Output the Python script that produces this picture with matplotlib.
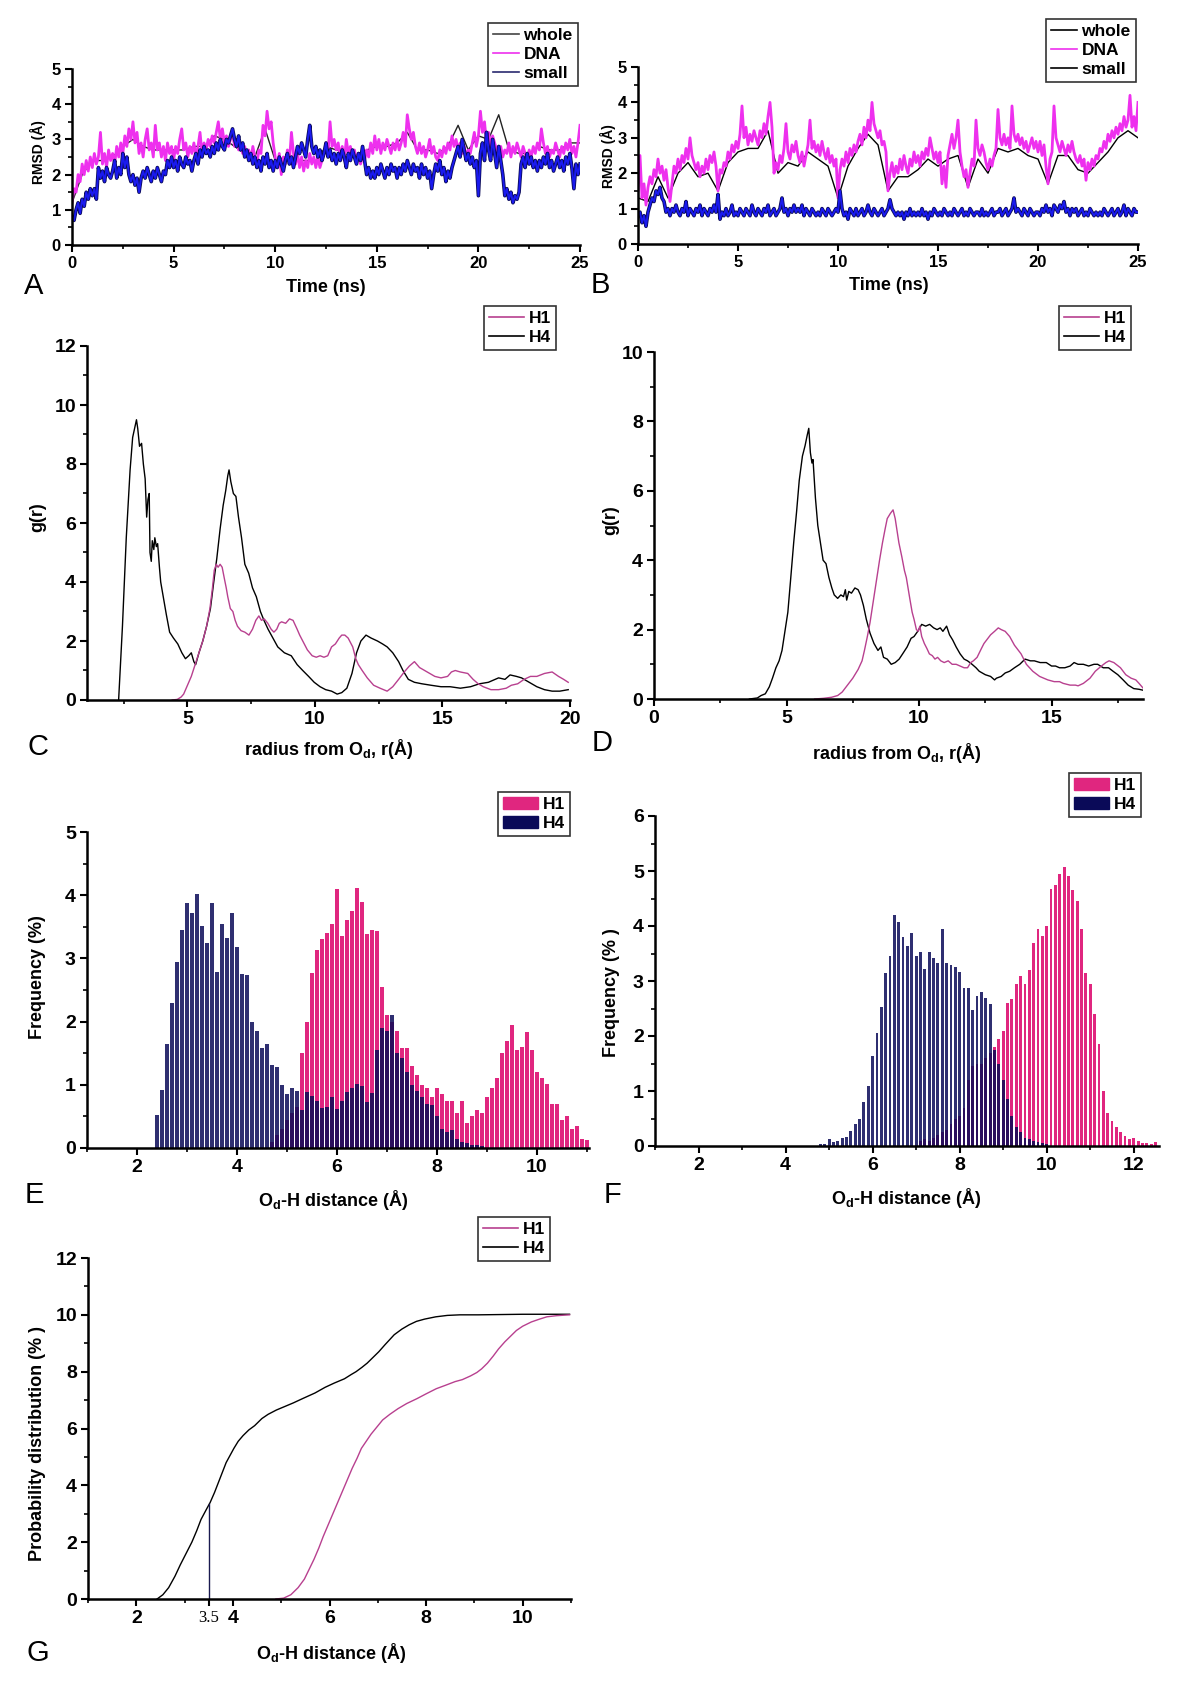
import numpy as np
import matplotlib.pyplot as plt
from matplotlib.lines import Line2D
from matplotlib.patches import Patch
from matplotlib.ticker import MultipleLocator, FixedLocator

# ---------------- data ----------------
# A: RMSD, 0.1 ns sampling (one row per ns)
a_dna = [
    1.2, 1.6, 1.5, 2.0, 1.8, 2.3, 2.0, 2.4, 2.1, 2.5,
    2.2, 2.6, 2.3, 2.5, 3.2, 2.3, 2.6, 2.2, 2.7, 2.4,
    2.6, 2.3, 2.8, 2.5, 2.9, 2.6, 3.1, 2.8, 3.3, 3.0,
    3.5, 2.9, 3.2, 2.6, 2.9, 2.5, 3.0, 3.3, 2.7, 2.9,
    2.5, 3.4, 2.7, 2.9, 2.5, 2.8, 2.4, 2.9, 2.6, 2.8,
    2.4, 2.8, 2.6, 3.0, 3.3, 2.7, 2.9, 2.5, 2.8, 2.6,
    2.9, 2.5, 2.8, 3.2, 2.6, 2.9, 2.7, 3.0, 2.8, 3.1,
    2.9, 3.2, 3.5, 3.0, 3.3, 2.9, 3.1, 2.8, 3.0, 3.2,
    2.8, 3.0, 2.7, 2.9, 2.6, 2.8, 2.5, 2.7, 2.4, 2.8,
    2.5, 2.3, 2.7, 2.6, 3.4, 3.1, 3.8, 3.3, 3.5, 2.9,
    2.5, 2.2, 2.6, 2.0, 2.5, 2.3, 2.7, 2.4, 3.2, 2.6,
    2.3, 2.6, 2.2, 2.5, 2.1, 2.4, 2.2, 2.6, 2.3, 2.5,
    2.2, 2.5, 2.2, 2.4, 2.6, 2.9, 2.6, 3.5, 2.8, 3.0,
    2.7, 2.9, 2.5, 2.8, 2.4, 3.0, 2.6, 2.8, 2.5, 2.7,
    2.4, 2.6, 2.3, 2.5, 2.4, 2.7, 2.5, 2.9, 2.6, 3.1,
    2.7, 3.0, 2.6, 2.9, 2.7, 3.0, 2.8, 2.6, 2.9, 2.7,
    3.0, 2.7, 2.9, 3.2, 2.8, 3.7, 3.3, 3.0, 3.2, 2.8,
    2.6, 2.9, 2.6, 2.8, 2.5, 2.7, 3.0, 2.6, 2.8, 2.5,
    2.4, 2.7, 2.5, 2.8, 2.6, 2.9, 2.7, 3.1, 2.8, 3.0,
    2.7, 2.9, 2.6, 2.8, 2.5, 2.7, 2.6, 2.9, 3.2, 2.8,
    3.1, 3.8, 3.2, 3.5, 2.9, 3.2, 2.8, 3.1, 2.9, 2.7,
    2.6, 2.8, 2.5, 2.7, 2.6, 2.9, 2.5, 2.8, 2.6, 2.9,
    2.7, 2.5, 2.8, 2.6, 2.4, 2.7, 2.5, 2.8, 2.6, 2.9,
    2.7, 3.3, 2.9, 2.6, 2.8, 2.5, 2.7, 2.6, 2.9, 2.7,
    2.5, 2.8, 2.6, 2.9, 2.7, 3.0, 2.6, 2.8, 2.5, 2.9,
    3.4]
a_small = [
    0.8, 0.7, 1.0, 1.2, 0.9, 1.3, 1.1, 1.5, 1.3, 1.6,
    1.4, 1.6, 1.3, 2.2, 1.9, 2.1, 1.8, 2.2, 2.0, 1.9,
    2.1, 2.4, 1.9, 2.2, 2.0, 2.6, 2.2, 2.5, 2.0, 1.8,
    2.0, 1.7, 1.9, 1.5, 1.9, 2.1, 1.9, 2.2, 2.0, 1.8,
    2.1, 1.9, 2.2, 2.0, 1.8, 2.1, 2.0, 2.4, 2.2, 2.5,
    2.2, 2.4, 2.1, 2.5, 2.3, 2.2, 2.5, 2.3, 2.4, 2.1,
    2.4, 2.6, 2.3, 2.7, 2.5, 2.8, 2.6, 2.7, 2.5, 2.8,
    2.6, 2.9, 2.7, 3.0, 2.8, 2.7, 3.0, 2.9, 3.1, 3.3,
    3.0, 2.8, 3.1, 2.7, 2.9, 2.5, 2.7, 2.4, 2.6, 2.3,
    2.5, 2.2, 2.4, 2.1, 2.5, 2.3, 2.6, 2.2, 2.4, 2.1,
    2.4, 2.2, 2.5, 2.3, 2.1, 2.4, 2.6, 2.3, 2.5, 2.2,
    2.5, 2.8, 2.6, 2.9, 2.7, 2.5, 3.0, 3.4, 2.8, 2.6,
    2.8, 2.5, 2.7, 2.4, 2.6, 2.9, 2.5, 2.7, 2.4, 2.6,
    2.3, 2.6, 2.4, 2.7, 2.5, 2.2, 2.6, 2.4, 2.7, 2.5,
    2.3, 2.6, 2.4, 2.8, 2.4, 2.0, 2.2, 1.9, 2.1, 1.9,
    2.2, 2.0, 2.3, 2.1, 1.9, 2.2, 2.0, 2.3, 2.1, 2.2,
    1.9, 2.2, 2.0, 2.3, 2.1, 2.4, 2.2, 2.0, 2.3, 2.1,
    2.2, 1.9, 2.3, 2.0, 2.2, 1.9, 2.1, 1.6, 2.0, 2.3,
    2.1, 2.4, 2.0, 2.2, 1.8, 2.1, 1.9, 2.2, 2.4, 2.6,
    2.8, 2.5, 3.0, 2.7, 2.4, 2.6, 2.3, 2.5, 2.2, 2.4,
    1.4, 2.6, 2.9, 2.4, 3.2, 2.7, 2.4, 3.0, 2.6, 2.2,
    2.8, 2.4, 2.0, 1.4, 1.6, 1.3, 1.5, 1.2, 1.4, 1.3,
    1.5, 2.3, 2.5, 2.2, 2.6, 2.3, 2.5, 2.2, 2.4, 2.1,
    2.4, 2.2, 2.5, 2.3, 2.6, 2.2, 2.4, 2.1, 2.3, 2.5,
    2.2, 2.4, 2.1, 2.5, 2.3, 2.6, 2.2, 1.6, 2.3, 2.0,
    2.3]
# whole system, 0.5 ns sampling
a_whole = [1.2, 2.0, 2.4, 2.4, 2.5, 2.8, 3.0, 2.8, 2.7, 2.7, 2.7, 2.7, 2.8,
           2.8, 3.1, 3.0, 2.8, 2.6, 2.5, 3.3, 2.4, 2.5, 2.4, 2.4, 2.4, 2.8,
           2.7, 2.7, 2.5, 2.7, 2.8, 2.8, 2.9, 3.2, 2.7, 2.7, 2.6, 2.8, 3.4,
           2.7, 3.1, 3.0, 3.7, 2.7, 2.6, 2.6, 2.8, 2.7, 2.7, 2.9, 2.9]

# B: RMSD
b_dna = [
    1.5, 2.5, 1.3, 1.7, 1.1, 1.6, 1.9, 1.7, 2.1, 1.9,
    2.4, 2.0, 2.2, 1.8, 2.1, 1.6, 1.2, 1.7, 2.2, 2.0,
    2.4, 2.1, 2.5, 2.3, 2.7, 2.4, 3.0, 2.5, 2.3, 2.1,
    2.3, 1.9, 2.2, 2.0, 2.4, 2.1, 2.5, 2.3, 2.6, 2.2,
    1.5, 2.1, 2.0, 2.3, 2.2, 2.6, 2.4, 2.8, 2.6, 2.9,
    2.7, 3.1, 3.9, 3.0, 3.3, 2.8, 3.1, 2.9, 3.2, 3.0,
    2.8, 3.2, 3.0, 3.4, 3.1, 3.6, 4.0, 3.3, 2.0, 2.3,
    2.1, 2.5, 2.3, 2.7, 3.4, 2.6, 2.4, 2.8, 2.6, 2.9,
    2.5, 2.3, 2.6, 2.2, 2.5, 2.8, 3.5, 2.7, 2.9, 2.6,
    2.8, 2.5, 2.9, 2.6, 2.4, 2.7, 2.3, 2.5, 2.2, 2.4,
    1.3, 2.1, 2.4, 2.2, 2.6, 2.3, 2.7, 2.5, 2.8, 2.6,
    2.9, 3.1, 2.8, 3.3, 3.0, 3.5, 3.2, 4.0, 3.4, 3.2,
    3.0, 3.2, 2.8, 2.9, 2.6, 1.5, 2.0, 2.3, 1.9, 2.2,
    2.0, 2.4, 2.1, 2.5, 2.2, 2.0, 2.4, 2.2, 2.6, 2.3,
    2.5, 2.2, 2.6, 2.4, 2.7, 2.5, 3.0, 2.7, 2.4, 2.6,
    2.3, 2.6, 1.7, 2.2, 1.6, 2.5, 2.8, 3.1, 2.7, 3.0,
    3.5, 2.6, 2.2, 1.9, 2.1, 1.6, 2.0, 2.4, 2.2, 3.5,
    2.7, 2.5, 2.8, 2.6, 2.3, 2.1, 2.4, 2.2, 2.5, 2.7,
    3.8, 3.0, 2.8, 3.1, 2.8, 3.0, 2.7, 3.9, 3.1, 2.9,
    3.1, 2.8, 3.0, 2.7, 2.9, 2.6, 2.8, 3.0, 2.7, 2.9,
    2.6, 2.9, 2.5, 2.8, 2.2, 1.7, 2.4, 2.6, 3.9, 3.0,
    2.8, 2.6, 2.9, 2.7, 2.5, 2.8, 2.6, 2.9, 2.6, 2.4,
    2.3, 2.5, 2.2, 2.4, 1.8, 2.3, 2.1, 2.4, 2.2, 2.5,
    2.4, 2.7, 2.6, 2.9, 2.7, 3.1, 2.9, 3.2, 3.0, 3.3,
    3.1, 3.4, 3.2, 3.6, 3.3, 3.5, 4.2, 3.3, 3.6, 3.2,
    4.0]
b_small = [
    0.8, 0.9, 0.6, 0.8, 0.5, 0.9, 1.1, 1.3, 1.2, 1.5,
    1.4, 1.6, 1.3, 1.2, 0.9, 1.0, 0.8, 1.0, 0.9, 1.1,
    0.9, 0.8, 1.0, 0.9, 1.2, 0.8, 1.0, 0.9, 0.8, 1.0,
    0.9, 1.1, 0.8, 1.0, 0.9, 0.8, 1.0, 0.9, 1.1, 0.9,
    1.4, 0.7, 0.9, 0.8, 1.0, 0.8, 0.9, 1.1, 0.8, 0.9,
    0.8, 1.0, 0.9, 0.8, 1.0, 0.9, 0.8, 1.1, 0.9, 0.8,
    1.0, 0.9, 0.8, 1.0, 0.9, 1.1, 0.8, 0.9, 1.0, 0.8,
    0.9, 1.0, 1.3, 0.9, 1.0, 0.8, 1.0, 0.9, 1.1, 0.9,
    1.0, 0.9, 1.1, 0.8, 1.0, 0.9, 0.8, 1.0, 0.9, 0.8,
    0.9, 0.8, 1.0, 0.9, 0.8, 1.0, 0.9, 0.8, 0.9, 1.0,
    0.9, 1.5, 1.0, 0.8, 0.9, 0.7, 1.0, 0.9, 0.8, 1.0,
    0.8, 0.9, 1.0, 0.8, 0.9, 1.1, 0.9, 0.8, 1.0, 0.9,
    0.8, 0.9, 1.0, 0.8, 0.9, 1.0, 1.25, 1.0, 0.9, 0.8,
    0.9, 0.8, 0.9, 0.7, 0.9, 0.8, 1.0, 0.8, 0.9, 0.8,
    0.9, 0.8, 1.0, 0.8, 0.9, 0.7, 0.9, 0.8, 1.0, 0.9,
    0.8, 0.9, 0.8, 1.0, 0.9, 0.8, 0.9, 0.8, 1.0, 0.9,
    0.8, 0.9, 1.0, 0.8, 0.9, 0.8, 1.0, 0.9, 0.8, 0.9,
    0.9, 0.8, 1.0, 0.8, 0.9, 0.8, 0.9, 1.0, 0.8, 0.9,
    0.9, 1.0, 0.8, 0.9, 1.0, 0.8, 0.9, 1.0, 1.3, 0.9,
    1.0, 0.9, 0.8, 1.0, 0.9, 0.8, 1.0, 0.9, 0.8, 0.9,
    0.9, 0.8, 1.0, 0.9, 1.1, 0.9, 1.0, 0.8, 1.1, 1.0,
    0.9, 1.1, 1.0, 1.2, 0.9, 1.0, 0.8, 1.0, 0.9, 1.0,
    0.8, 0.9, 1.0, 0.8, 0.9, 0.8, 1.0, 0.9, 0.8, 0.9,
    0.8, 0.9, 0.8, 1.0, 0.9, 0.8, 0.9, 1.0, 0.8, 0.9,
    1.0, 0.8, 0.9, 1.1, 0.8, 1.0, 0.9, 0.8, 1.0, 0.9,
    0.9]
b_whole = [1.3, 1.2, 1.9, 1.3, 2.0, 2.3, 1.9, 2.0, 1.5, 2.3, 2.6, 2.7, 2.7,
           3.2, 2.0, 2.3, 2.2, 2.6, 2.4, 2.2, 1.3, 2.2, 2.7, 3.1, 2.8, 1.5,
           1.9, 1.9, 2.1, 2.4, 2.2, 2.4, 2.5, 1.6, 2.4, 2.0, 2.7, 2.6, 2.7,
           2.5, 2.4, 1.7, 2.5, 2.5, 2.1, 2.0, 2.3, 2.6, 3.0, 3.2, 3.0]

# C: g(r) pairs (r, g)
c_h4 = [(2.3, 0.0), (2.45, 2.5), (2.6, 5.5), (2.75, 7.8), (2.85, 8.9), (2.95, 9.3),
        (3.0, 9.5), (3.05, 9.2), (3.12, 8.6), (3.2, 8.7), (3.27, 8.0), (3.34, 7.5),
        (3.4, 6.2), (3.45, 6.8), (3.5, 7.0), (3.53, 5.0), (3.58, 4.7), (3.62, 5.4),
        (3.68, 5.1), (3.72, 5.5), (3.78, 5.2), (3.83, 5.3), (3.9, 4.5), (3.95, 4.0),
        (4.05, 3.5), (4.17, 2.9), (4.3, 2.3), (4.45, 2.1), (4.62, 1.9), (4.78, 1.6),
        (4.92, 1.4), (5.05, 1.5), (5.15, 1.6), (5.25, 1.3), (5.32, 1.2), (5.45, 1.6),
        (5.6, 2.0), (5.75, 2.5), (5.9, 3.1), (6.03, 4.0), (6.15, 4.8), (6.28, 5.8),
        (6.4, 6.6), (6.5, 7.1), (6.58, 7.6), (6.63, 7.8), (6.7, 7.4), (6.8, 7.0),
        (6.9, 6.9), (7.0, 6.2), (7.12, 5.5), (7.25, 4.6), (7.4, 4.3), (7.55, 3.8),
        (7.7, 3.5), (7.86, 3.0), (8.0, 2.7), (8.16, 2.4), (8.35, 2.1), (8.54, 1.8),
        (8.8, 1.6), (9.07, 1.5), (9.3, 1.2), (9.52, 1.0), (9.75, 0.8), (9.97, 0.6),
        (10.2, 0.45), (10.42, 0.35), (10.65, 0.3), (10.87, 0.2), (11.05, 0.25),
        (11.25, 0.4), (11.45, 0.9), (11.63, 1.6), (11.8, 2.0), (12.0, 2.2),
        (12.2, 2.1), (12.45, 2.0), (12.65, 1.9), (12.83, 1.8), (13.05, 1.6),
        (13.28, 1.3), (13.45, 1.0), (13.66, 0.7), (13.9, 0.6), (14.19, 0.55),
        (14.55, 0.5), (14.94, 0.45), (15.3, 0.45), (15.7, 0.4), (16.1, 0.45),
        (16.45, 0.55), (16.8, 0.6), (17.2, 0.75), (17.45, 0.7), (17.65, 0.85),
        (17.9, 0.8), (18.1, 0.75), (18.4, 0.6), (18.7, 0.45), (19.0, 0.35),
        (19.3, 0.3), (19.6, 0.3), (19.93, 0.35)]
c_h1 = [(4.4, 0.0), (4.6, 0.02), (4.75, 0.1), (4.85, 0.2), (5.0, 0.5), (5.15, 0.8),
        (5.3, 1.2), (5.45, 1.6), (5.6, 2.0), (5.75, 2.5), (5.88, 3.1), (5.98, 3.8),
        (6.05, 4.4), (6.13, 4.6), (6.2, 4.5), (6.28, 4.6), (6.36, 4.5), (6.45, 4.1),
        (6.52, 3.8), (6.58, 3.5), (6.68, 3.1), (6.78, 3.0), (6.87, 2.7), (6.96, 2.5),
        (7.1, 2.35), (7.25, 2.3), (7.41, 2.2), (7.55, 2.4), (7.68, 2.7), (7.8, 2.85),
        (7.9, 2.7), (8.01, 2.75), (8.15, 2.6), (8.28, 2.4), (8.39, 2.3), (8.5, 2.4),
        (8.6, 2.6), (8.69, 2.65), (8.85, 2.6), (9.0, 2.75), (9.14, 2.7), (9.3, 2.4),
        (9.4, 2.2), (9.52, 2.0), (9.7, 1.7), (9.89, 1.5), (10.05, 1.45), (10.2, 1.5),
        (10.35, 1.45), (10.5, 1.5), (10.65, 1.8), (10.8, 1.9), (10.95, 2.1),
        (11.05, 2.2), (11.17, 2.2), (11.3, 2.1), (11.48, 1.8), (11.6, 1.4),
        (11.7, 1.2), (11.85, 1.0), (12.05, 0.75), (12.3, 0.5), (12.55, 0.4),
        (12.83, 0.3), (13.05, 0.45), (13.28, 0.7), (13.5, 0.95), (13.7, 1.15),
        (13.9, 1.3), (14.1, 1.1), (14.3, 1.0), (14.5, 0.9), (14.7, 0.8), (14.94, 0.75),
        (15.2, 0.8), (15.35, 0.95), (15.5, 1.0), (15.7, 0.95), (15.99, 0.9),
        (16.2, 0.7), (16.4, 0.55), (16.6, 0.45), (16.9, 0.35), (17.2, 0.35),
        (17.5, 0.4), (17.7, 0.5), (17.95, 0.55), (18.2, 0.7), (18.45, 0.8),
        (18.7, 0.8), (19.0, 0.9), (19.3, 0.95), (19.55, 0.8), (19.75, 0.7), (19.93, 0.6)]

# D: g(r) pairs
d_h4 = [(3.6, 0.0), (3.9, 0.03), (4.04, 0.1), (4.2, 0.15), (4.35, 0.35), (4.47, 0.6),
        (4.6, 0.9), (4.72, 1.1), (4.83, 1.4), (4.95, 2.0), (5.05, 2.5), (5.15, 3.4),
        (5.27, 4.5), (5.38, 5.4), (5.48, 6.3), (5.6, 7.0), (5.7, 7.3), (5.78, 7.6),
        (5.84, 7.8), (5.9, 7.1), (5.96, 6.8), (6.0, 6.9), (6.09, 5.8), (6.18, 5.0),
        (6.28, 4.5), (6.38, 4.0), (6.49, 3.9), (6.6, 3.5), (6.71, 3.2), (6.8, 3.0),
        (6.93, 2.9), (7.05, 3.0), (7.15, 2.95), (7.22, 3.15), (7.27, 2.85), (7.35, 3.1),
        (7.45, 3.05), (7.58, 3.2), (7.7, 3.15), (7.79, 3.0), (7.9, 2.7), (8.01, 2.3),
        (8.15, 1.9), (8.3, 1.6), (8.45, 1.4), (8.56, 1.5), (8.66, 1.2), (8.8, 1.15),
        (8.95, 1.0), (9.1, 1.05), (9.25, 1.15), (9.38, 1.3), (9.55, 1.5), (9.7, 1.75),
        (9.81, 1.8), (9.95, 1.95), (10.1, 2.15), (10.25, 2.1), (10.4, 2.15),
        (10.55, 2.05), (10.68, 2.0), (10.8, 2.05), (10.9, 1.95), (11.04, 2.1),
        (11.15, 1.85), (11.27, 1.7), (11.4, 1.5), (11.55, 1.3), (11.7, 1.15),
        (11.83, 1.1), (12.0, 1.0), (12.15, 0.9), (12.27, 0.8), (12.5, 0.7),
        (12.7, 0.65), (12.85, 0.55), (12.92, 0.6), (13.1, 0.65), (13.25, 0.75),
        (13.42, 0.8), (13.6, 0.9), (13.8, 1.0), (14.0, 1.15), (14.2, 1.1),
        (14.35, 1.1), (14.57, 1.05), (14.8, 1.05), (15.0, 0.95), (15.15, 0.95),
        (15.3, 0.9), (15.5, 0.9), (15.7, 0.95), (15.85, 1.05), (16.0, 1.0),
        (16.2, 1.0), (16.4, 0.95), (16.6, 1.0), (16.74, 1.0), (16.95, 0.9),
        (17.15, 0.9), (17.32, 0.8), (17.5, 0.7), (17.7, 0.55), (17.89, 0.4),
        (18.1, 0.3), (18.3, 0.28), (18.47, 0.25)]
d_h1 = [(6.06, 0.0), (6.4, 0.02), (6.7, 0.05), (6.93, 0.1), (7.1, 0.2), (7.3, 0.4),
        (7.5, 0.6), (7.7, 0.85), (7.85, 1.1), (7.94, 1.4), (8.05, 1.8), (8.15, 2.2),
        (8.23, 2.6), (8.35, 3.2), (8.45, 3.7), (8.51, 4.0), (8.62, 4.5), (8.72, 4.9),
        (8.8, 5.2), (8.92, 5.35), (9.02, 5.45), (9.1, 5.2), (9.18, 4.8), (9.24, 4.5),
        (9.35, 4.1), (9.45, 3.7), (9.52, 3.5), (9.65, 2.9), (9.74, 2.5), (9.81, 2.3),
        (9.9, 2.0), (9.97, 1.95), (10.03, 2.1), (10.1, 1.8), (10.2, 1.6), (10.3, 1.45),
        (10.39, 1.3), (10.5, 1.25), (10.6, 1.15), (10.7, 1.2), (10.82, 1.1),
        (10.95, 1.05), (11.1, 1.1), (11.25, 1.0), (11.4, 1.0), (11.55, 0.95),
        (11.7, 0.9), (11.83, 0.9), (11.95, 1.05), (12.05, 1.1), (12.19, 1.2),
        (12.35, 1.45), (12.45, 1.6), (12.55, 1.7), (12.7, 1.85), (12.85, 1.95),
        (12.99, 2.05), (13.1, 2.0), (13.25, 1.95), (13.42, 1.8), (13.6, 1.55),
        (13.75, 1.4), (13.85, 1.3), (14.05, 1.0), (14.29, 0.8), (14.55, 0.65),
        (14.86, 0.55), (15.1, 0.5), (15.3, 0.5), (15.44, 0.45), (15.7, 0.4),
        (15.9, 0.4), (16.0, 0.38), (16.2, 0.45), (16.45, 0.6), (16.65, 0.8),
        (16.88, 0.95), (17.05, 1.05), (17.17, 1.1), (17.35, 1.05), (17.6, 0.9),
        (17.8, 0.7), (18.0, 0.6), (18.18, 0.55), (18.3, 0.45), (18.47, 0.3)]

# E: histograms, 0.1 A bins
e_h4_start = 2.4
e_h4 = [0.52, 0.92, 1.65, 2.3, 2.95, 3.45, 3.87, 3.72, 4.02, 3.52, 3.25, 3.87, 2.78,
        3.55, 3.32, 3.72, 3.18, 2.75, 2.74, 2.0, 1.85, 1.58, 1.65, 1.32, 1.28, 1.0,
        0.85, 0.95, 0.9, 0.6, 0.88, 0.82, 0.75, 0.63, 0.65, 0.8, 0.62, 0.75, 0.88,
        0.95, 1.02, 0.98, 0.73, 0.87, 1.55, 1.9, 1.85, 2.1, 1.5, 1.42, 1.2, 1.0, 0.9,
        0.8, 0.7, 0.68, 0.5, 0.3, 0.25, 0.28, 0.15, 0.1, 0.08, 0.05, 0.04, 0.03]
e_h1_start = 4.7
e_h1 = [0.1, 0.2, 0.3, 0.45, 0.55, 0.65, 1.5, 2.0, 2.77, 3.13, 3.3, 3.4, 3.55, 4.1,
        3.35, 3.6, 3.75, 4.12, 3.9, 3.38, 3.45, 3.44, 2.55, 2.1, 2.0, 1.85, 1.58,
        1.58, 1.3, 1.15, 1.0, 0.95, 0.8, 0.95, 0.85, 0.75, 0.75, 0.55, 0.75, 0.4,
        0.5, 0.6, 0.55, 0.8, 0.95, 1.1, 1.5, 1.7, 1.95, 1.55, 1.6, 1.83, 1.55, 1.2,
        1.1, 1.02, 0.7, 0.7, 0.45, 0.5, 0.3, 0.35, 0.15, 0.13]

# F: histograms
f_h4_start = 4.8
f_h4 = [0.03, 0.04, 0.12, 0.07, 0.1, 0.14, 0.16, 0.27, 0.4, 0.5, 0.8, 1.1, 1.63,
        2.05, 2.53, 3.15, 3.45, 4.2, 4.08, 3.8, 3.64, 3.88, 3.46, 3.53, 3.22, 3.53,
        3.42, 3.32, 3.95, 3.32, 3.3, 3.25, 3.16, 2.87, 2.87, 2.48, 2.72, 2.8, 2.7,
        2.58, 1.75, 1.5, 1.2, 0.85, 0.55, 0.35, 0.25, 0.15, 0.12, 0.1, 0.07, 0.05, 0.03]
f_h1_start = 7.1
f_h1 = [0.1, 0.12, 0.1, 0.15, 0.2, 0.25, 0.3, 0.4, 0.5, 0.55, 0.7, 1.2, 1.45, 1.5,
        1.5, 1.6, 1.7, 1.8, 1.95, 2.1, 2.6, 2.68, 2.95, 3.1, 2.95, 3.2, 3.7, 3.95,
        3.82, 4.0, 4.68, 4.75, 4.95, 5.07, 4.9, 4.65, 4.45, 3.95, 3.15, 2.95, 2.4,
        1.85, 1.0, 0.6, 0.45, 0.35, 0.25, 0.18, 0.13, 0.15, 0.09, 0.06, 0.05, 0.04, 0.08]

# G: cumulative distribution pairs
g_h4 = [(2.43, 0.0), (2.55, 0.15), (2.67, 0.4), (2.8, 0.8), (2.91, 1.2), (3.03, 1.6),
        (3.15, 2.0), (3.25, 2.4), (3.34, 2.8), (3.45, 3.15), (3.53, 3.4), (3.62, 3.75),
        (3.7, 4.1), (3.78, 4.45), (3.86, 4.8), (3.94, 5.05), (4.02, 5.3), (4.11, 5.55),
        (4.21, 5.75), (4.33, 5.95), (4.45, 6.1), (4.6, 6.35), (4.73, 6.5), (4.9, 6.65),
        (5.04, 6.75), (5.25, 6.9), (5.44, 7.05), (5.7, 7.25), (5.91, 7.45), (6.1, 7.6),
        (6.31, 7.75), (6.45, 7.9), (6.55, 8.0), (6.67, 8.15), (6.78, 8.3), (6.9, 8.5),
        (7.02, 8.7), (7.15, 8.95), (7.34, 9.3), (7.5, 9.5), (7.65, 9.65), (7.8, 9.77),
        (7.97, 9.85), (8.2, 9.93), (8.44, 9.98), (8.7, 10.0), (9.08, 10.0),
        (10.0, 10.02), (10.97, 10.02)]
g_h1 = [(4.89, 0.0), (5.05, 0.03), (5.2, 0.15), (5.35, 0.4), (5.48, 0.7), (5.58, 1.05),
        (5.68, 1.4), (5.78, 1.8), (5.87, 2.2), (5.97, 2.6), (6.07, 3.0), (6.17, 3.4),
        (6.27, 3.8), (6.37, 4.2), (6.47, 4.6), (6.57, 4.95), (6.66, 5.3), (6.76, 5.55),
        (6.86, 5.8), (6.98, 6.05), (7.1, 6.3), (7.25, 6.5), (7.42, 6.7), (7.6, 6.88),
        (7.81, 7.05), (8.0, 7.22), (8.21, 7.4), (8.4, 7.52), (8.6, 7.65), (8.75, 7.72),
        (8.92, 7.85), (9.05, 7.97), (9.15, 8.1), (9.27, 8.3), (9.39, 8.55), (9.5, 8.8),
        (9.63, 9.05), (9.75, 9.25), (9.87, 9.45), (10.0, 9.6), (10.18, 9.75),
        (10.35, 9.85), (10.5, 9.93), (10.7, 9.97), (10.97, 10.0)]
g_cut_r, g_cut_p = 3.5, 3.35
g_xticks = [2, 3.5, 4, 6, 8, 10]

# ---------------- style ----------------
W, H = 1200, 1694
plt.rcParams['font.family'] = ['Liberation Sans', 'DejaVu Sans']
plt.rcParams['mathtext.fontset'] = 'custom'
plt.rcParams['mathtext.rm'] = 'Liberation Sans:bold'
plt.rcParams['mathtext.it'] = 'Liberation Sans:bold:italic'
plt.rcParams['mathtext.bf'] = 'Liberation Sans:bold'

MAG = '#ee30ee'
BLUE = '#1a1aee'
NAVY = '#0a0a58'
PINK = '#e0267f'
H1LINE = '#b8408f'

fig = plt.figure(figsize=(W / 100, H / 100), dpi=100)


def make_axes(l, t, r, b):
    # pixel box (left, top, right, bottom) -> axes
    return fig.add_axes([l / W, 1 - b / H, (r - l) / W, (b - t) / H])


def ftext(x, y, s, **kw):
    kw.setdefault('ha', 'center')
    kw.setdefault('va', 'center')
    fig.text(x / W, 1 - y / H, s, **kw)


def style(ax, xmaj, xmin_, ymaj, ymin_, tsize=14):
    for s in ['top', 'right']:
        ax.spines[s].set_visible(False)
    for s in ['left', 'bottom']:
        ax.spines[s].set_linewidth(1.8)
    ax.xaxis.set_major_locator(MultipleLocator(xmaj))
    ax.xaxis.set_minor_locator(MultipleLocator(xmin_))
    ax.yaxis.set_major_locator(MultipleLocator(ymaj))
    ax.yaxis.set_minor_locator(MultipleLocator(ymin_))
    ax.tick_params(which='major', direction='out', length=5, width=1.5,
                   labelsize=tsize, pad=3)
    ax.tick_params(which='minor', direction='out', length=3, width=1.2)


def fix_ticklabels(ax):
    for lbl in ax.get_xticklabels() + ax.get_yticklabels():
        lbl.set_weight('bold')


def legend(ax, handles, labels, right, top, size=12.5, hl=1.5):
    leg = ax.legend(handles, labels, loc='upper right',
                    bbox_to_anchor=(right / W, 1 - top / H),
                    bbox_transform=fig.transFigure, frameon=True, fancybox=False,
                    edgecolor='black', borderaxespad=0,
                    prop={'weight': 'bold', 'size': size}, handlelength=hl,
                    handletextpad=0.25, borderpad=0.3, labelspacing=0.2)
    leg.get_frame().set_linewidth(1.2)
    return leg


label_kw = dict(fontsize=13, fontweight='bold')
letter_kw = dict(fontsize=21)

# ---------------- A ----------------
t_fine = np.arange(len(a_dna)) * 0.1
t_half = np.arange(len(a_whole)) * 0.5
axA = make_axes(72, 69, 580, 245)
axA.plot(t_half, a_whole, color='#222222', lw=1.0)
axA.plot(t_fine, a_dna, color=MAG, lw=2.0)
axA.plot(t_fine, a_small, color=NAVY, lw=2.6)
axA.plot(t_fine, a_small, color=BLUE, lw=1.4)
axA.set_xlim(0, 25)
axA.set_ylim(0, 5)
style(axA, 5, 2.5, 1, 0.5, tsize=12)
fix_ticklabels(axA)
legend(axA, [Line2D([], [], color='#444444', lw=1.2), Line2D([], [], color=MAG, lw=1.2),
             Line2D([], [], color='#2a2a70', lw=1.2)],
       ['whole', 'DNA', 'small'], 578, 23)
ftext(38, 152, 'RMSD (Å)', rotation=90, fontsize=10, fontweight='bold')
ftext(326, 287, 'Time (ns)', **label_kw)
ftext(34, 286, 'A', **letter_kw)

# ---------------- B ----------------
axB = make_axes(638, 67, 1138, 244)
axB.plot(t_half, b_whole, color='black', lw=1.0)
axB.plot(t_fine, b_dna, color=MAG, lw=2.0)
axB.plot(t_fine, b_small, color=NAVY, lw=2.6)
axB.plot(t_fine, b_small, color=BLUE, lw=1.4)
axB.set_xlim(0, 25)
axB.set_ylim(0, 5)
style(axB, 5, 2.5, 1, 0.5, tsize=12)
fix_ticklabels(axB)
legend(axB, [Line2D([], [], color='black', lw=1.2), Line2D([], [], color=MAG, lw=1.2),
             Line2D([], [], color='black', lw=1.2)],
       ['whole', 'DNA', 'small'], 1136, 19)
ftext(608, 156, 'RMSD (Å)', rotation=90, fontsize=10, fontweight='bold')
ftext(889, 286, 'Time (ns)', **label_kw)
ftext(600, 285, 'B', **letter_kw)

# ---------------- C ----------------
axC = make_axes(87, 346, 570, 700)
r, g = zip(*c_h4)
axC.plot(r, g, color='black', lw=1.0)
r, g = zip(*c_h1)
axC.plot(r, g, color=H1LINE, lw=1.0)
axC.set_xlim(1.06, 20)
axC.set_ylim(0, 12)
style(axC, 5, 2.5, 2, 1)
fix_ticklabels(axC)
legend(axC, [Line2D([], [], color=H1LINE, lw=1.2), Line2D([], [], color='black', lw=1.2)],
       ['H1', 'H4'], 556, 306, hl=2.0)
ftext(38, 517, 'g(r)', rotation=90, **label_kw)
ftext(329, 749, r'radius from O$_\mathrm{d}$, r(Å)', **label_kw)
ftext(38, 747, 'C', **letter_kw)

# ---------------- D ----------------
axD = make_axes(654, 352, 1143, 699)
r, g = zip(*d_h4)
axD.plot(r, g, color='black', lw=1.0)
r, g = zip(*d_h1)
axD.plot(r, g, color=H1LINE, lw=1.0)
axD.set_xlim(0, 18.45)
axD.set_ylim(0, 10)
style(axD, 5, 2.5, 2, 1)
fix_ticklabels(axD)
legend(axD, [Line2D([], [], color=H1LINE, lw=1.2), Line2D([], [], color='black', lw=1.2)],
       ['H1', 'H4'], 1131, 306, hl=2.0)
ftext(611, 520, 'g(r)', rotation=90, **label_kw)
ftext(897, 753, r'radius from O$_\mathrm{d}$, r(Å)', **label_kw)
ftext(602, 743, 'D', **letter_kw)

# ---------------- E ----------------
axE = make_axes(87, 832, 589, 1148)
x1 = e_h1_start + 0.1 * np.arange(len(e_h1))
x4 = e_h4_start + 0.1 * np.arange(len(e_h4))
axE.bar(x1, e_h1, width=0.065, color=PINK, lw=0)
axE.bar(x4, e_h4, width=0.065, color=NAVY, alpha=0.85, lw=0)
axE.set_xlim(1, 11.04)
axE.set_ylim(0, 5)
style(axE, 2, 1, 1, 0.5)
fix_ticklabels(axE)
legend(axE, [Patch(color=PINK), Patch(color=NAVY)], ['H1', 'H4'], 570, 792, hl=2.0)
ftext(38, 977, 'Frequency (%)', rotation=90, **label_kw)
ftext(333, 1200, r'O$_\mathrm{d}$-H distance (Å)', **label_kw)
ftext(34, 1195, 'E', **letter_kw)

# ---------------- F ----------------
axF = make_axes(655, 816, 1159, 1146)
x1 = f_h1_start + 0.1 * np.arange(len(f_h1))
x4 = f_h4_start + 0.1 * np.arange(len(f_h4))
axF.bar(x1, f_h1, width=0.065, color=PINK, lw=0)
axF.bar(x4, f_h4, width=0.065, color=NAVY, alpha=0.85, lw=0)
axF.set_xlim(1, 12.58)
axF.set_ylim(0, 6)
style(axF, 2, 1, 1, 0.5)
fix_ticklabels(axF)
legend(axF, [Patch(color=PINK), Patch(color=NAVY)], ['H1', 'H4'], 1141, 773, hl=2.0)
ftext(612, 993, 'Frequency (% )', rotation=90, **label_kw)
ftext(906, 1198, r'O$_\mathrm{d}$-H distance (Å)', **label_kw)
ftext(612, 1195, 'F', **letter_kw)

# ---------------- G ----------------
axG = make_axes(88, 1258, 571, 1599)
r, p = zip(*g_h4)
axG.plot(r, p, color='black', lw=1.0)
r, p = zip(*g_h1)
axG.plot(r, p, color=H1LINE, lw=1.0)
axG.plot([g_cut_r, g_cut_r], [0, g_cut_p], color='#1a1a50', lw=1.0)
axG.set_xlim(1, 11)
axG.set_ylim(0, 12)
style(axG, 2, 1, 2, 1)
axG.xaxis.set_major_locator(FixedLocator(g_xticks))
axG.set_xticklabels(['2', '3.5', '4', '6', '8', '10'])
fix_ticklabels(axG)
for lbl in axG.get_xticklabels():
    if lbl.get_text() == '3.5':
        lbl.set_family('Liberation Serif')
        lbl.set_weight('normal')
        lbl.set_fontsize(12)
legend(axG, [Line2D([], [], color=H1LINE, lw=1.2), Line2D([], [], color='black', lw=1.2)],
       ['H1', 'H4'], 550, 1217, hl=2.0)
ftext(38, 1443, 'Probability distribution (% )', rotation=90, **label_kw)
ftext(331, 1653, r'O$_\mathrm{d}$-H distance (Å)', **label_kw)
ftext(38, 1653, 'G', **letter_kw)

fig.savefig('out.png', dpi=100)
